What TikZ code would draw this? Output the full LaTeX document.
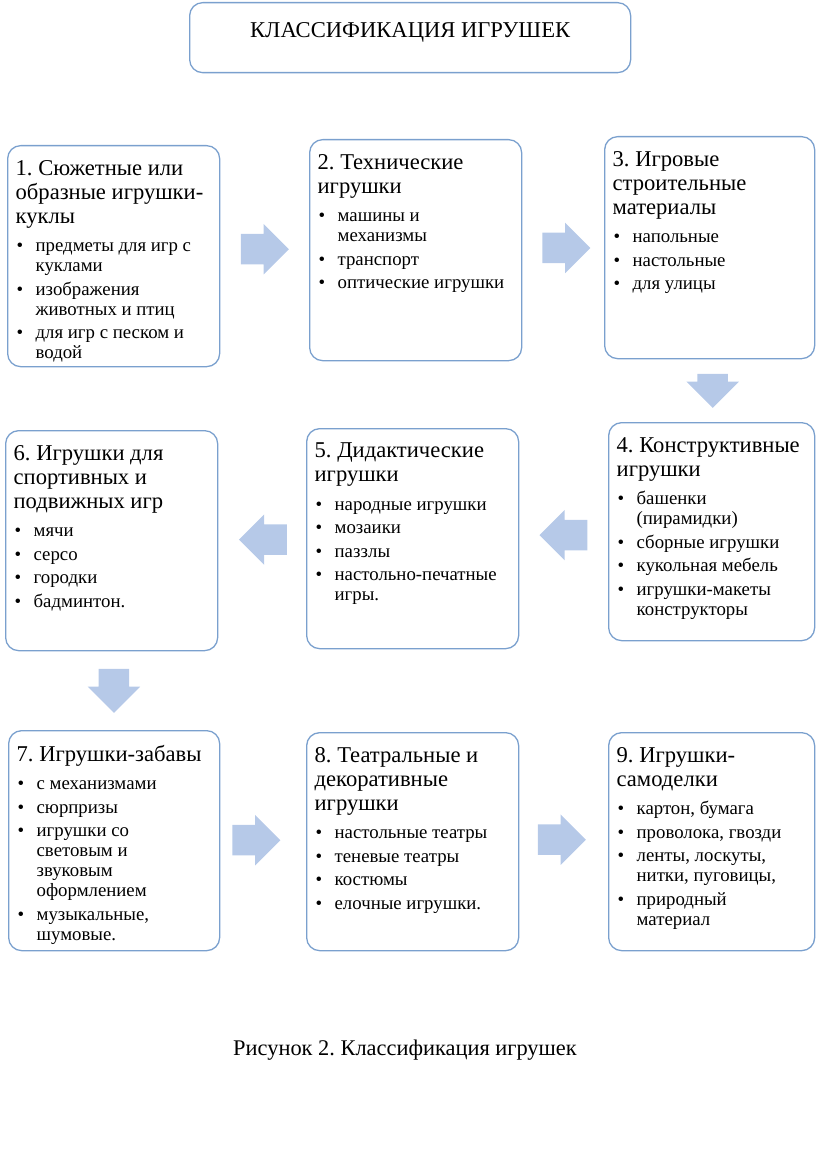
\documentclass[tikz,border=0pt]{standalone}
\usepackage{fontspec}
\setmainfont{Liberation Serif}
\usetikzlibrary{shapes.arrows,calc}
\frenchspacing

\definecolor{kborder}{RGB}{122,160,206}
\definecolor{karrow}{RGB}{182,201,232}

%% box text: height, width, body
\newcommand{\ktext}[3]{\parbox[c][#1][t]{#2}{\raggedright\parskip=3.5pt
    \vspace*{3pt}\fontsize{22.6}{24}\selectfont #3}}
\newcommand{\kitem}[1]{\par\fontsize{18.8}{20}\selectfont
    \hangindent=20pt\hangafter=1\noindent\hspace*{1pt}\makebox[19pt][l]{•}#1}
\newcommand{\kgap}{\par\vspace{5pt}}

\tikzset{
    klass/.style={draw=kborder,line width=1.3pt,rounded corners=13pt,
        fill=white,inner sep=8pt,anchor=north west},
    karr/.style={single arrow,fill=karrow,draw=none,inner xsep=0pt,
        inner ysep=15pt,single arrow head extend=10pt,minimum height=48pt,
        anchor=tail},
    karrdown/.style={karr,shape border rotate=270,inner xsep=15pt,
        inner ysep=0pt,single arrow head extend=11pt},
}

\begin{document}
\begin{tikzpicture}[x=1pt,y=-1pt]
    \useasboundingbox (0,0) rectangle (816,1158);
    %% Title
    \node[klass] (title) at (189,2)
        {\parbox[c][54pt][t]{425pt}{\centering\fontsize{22.6}{24}\selectfont
        \vspace*{12pt}КЛАССИФИКАЦИЯ ИГРУШЕК}};
    %% Row 1
    \node[klass] (b1) at (7,145) {\ktext{205pt}{196pt}{%
        1. Сюжетные или\newline образные игрушки-\newline куклы\kgap
        \kitem{предметы для игр с\newline куклами}
        \kitem{изображения\newline животных и птиц}
        \kitem{для игр с песком и\newline водой}}};
    \node[klass] (b2) at (309,139) {\ktext{205pt}{196pt}{%
        2. Технические\newline игрушки\kgap
        \kitem{машины и\newline механизмы}
        \kitem{транспорт}
        \kitem{оптические игрушки}}};
    \node[klass] (b3) at (604,136) {\ktext{206pt}{194pt}{%
        3. Игровые\newline строительные\newline материалы\kgap
        \kitem{напольные}
        \kitem{настольные}
        \kitem{для улицы}}};
    %% Row 2
    \node[klass] (b4) at (608,422) {\ktext{202pt}{190pt}{%
        4. Конструктивные\newline игрушки\kgap
        \kitem{башенки\newline (пирамидки)}
        \kitem{сборные игрушки}
        \kitem{кукольная мебель}
        \kitem{игрушки-макеты\newline конструкторы}}};
    \node[klass] (b5) at (306,428) {\ktext{204pt}{196pt}{%
        5. Дидактические\newline игрушки\kgap
        \kitem{народные игрушки}
        \kitem{мозаики}
        \kitem{паззлы}
        \kitem{настольно-печатные\newline игры.}}};
    \node[klass] (b6) at (5,430) {\ktext{204pt}{196pt}{%
        6. Игрушки для\newline спортивных и\newline подвижных игр\kgap
        \kitem{мячи}
        \kitem{серсо}
        \kitem{городки}
        \kitem{бадминтон.}}};
    %% Row 3
    \node[klass] (b7) at (8,730) {\ktext{204pt}{195pt}{%
        7. Игрушки-забавы\kgap
        \kitem{с механизмами}
        \kitem{сюрпризы}
        \kitem{игрушки со\newline световым и\newline звуковым\newline оформлением}
        \kitem{музыкальные,\newline шумовые.}}};
    \node[klass] (b8) at (306,732) {\ktext{202pt}{196pt}{%
        8. Театральные и\newline декоративные\newline игрушки\kgap
        \kitem{настольные театры}
        \kitem{теневые театры}
        \kitem{костюмы}
        \kitem{елочные игрушки.}}};
    \node[klass] (b9) at (608,732) {\ktext{202pt}{190pt}{%
        9. Игрушки-\newline самоделки\kgap
        \kitem{картон, бумага}
        \kitem{проволока, гвозди}
        \kitem{ленты, лоскуты,\newline нитки, пуговицы,}
        \kitem{природный\newline материал}}};
    %% Arrows
    \node[karr] (a12) at ($(b1.east)!0.5!(b2.west)+(-24,-4)$) {};
    \node[karr] (a23) at ($(b2.east)!0.5!(b3.west)+(-21,-1)$) {};
    \node[karrdown,minimum height=34pt] (a34)
        at ($(b3.south)!0.5!(b4.north)+(2,-17)$) {};
    \node[karr,shape border rotate=180] (a45)
        at ($(b4.west)!0.5!(b5.east)+(24,0)$) {};
    \node[karr,shape border rotate=180] (a56)
        at ($(b5.west)!0.5!(b6.east)+(25,0)$) {};
    \node[karrdown,minimum height=44pt] (a67)
        at ($(b6.south)!0.5!(b7.north)+(1,-22)$) {};
    \node[karr] (a78) at ($(b7.east)!0.5!(b8.west)+(-31,-1)$) {};
    \node[karr] (a89) at ($(b8.east)!0.5!(b9.west)+(-26,-2)$) {};
    %% Caption
    \node[font=\fontsize{22.4}{24}\selectfont] (caption) at (405,1050)
        {Рисунок 2. Классификация игрушек};
\end{tikzpicture}
\end{document}
